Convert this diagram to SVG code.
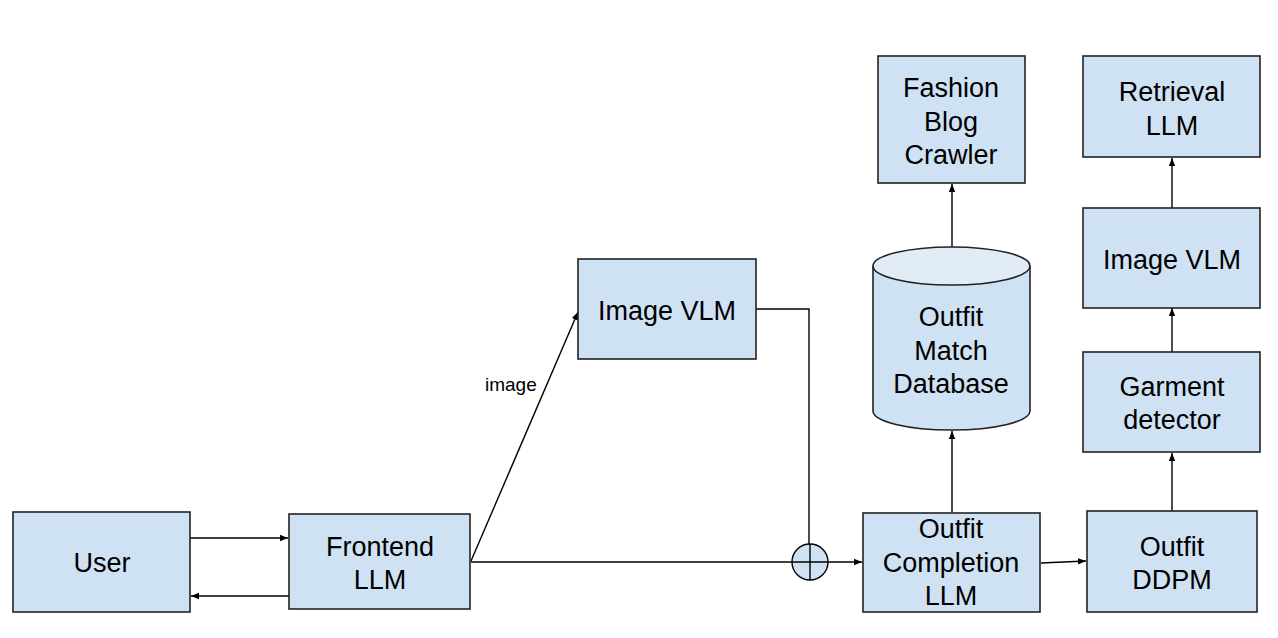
<svg xmlns="http://www.w3.org/2000/svg" width="1278" height="638" viewBox="0 0 1278 638">
<defs>
<style>
.box{fill:#cfe2f3;stroke:#222;stroke-width:1.6}
.t{font-family:"Liberation Sans",Arial,sans-serif;font-size:27px;fill:#000;text-anchor:middle}
.lbl{font-family:"Liberation Sans",Arial,sans-serif;font-size:19px;fill:#000}
.c{fill:none;stroke:#000;stroke-width:1.4}
</style>
<marker id="ah" viewBox="0 0 10 10" refX="10" refY="5" markerWidth="8" markerHeight="8" markerUnits="userSpaceOnUse" orient="auto">
<path d="M0,1 L10,5 L0,9 z" fill="#000"/>
</marker>
</defs>
<rect width="1278" height="638" fill="#fff"/>
<g id="connectors">
<line class="c" x1="190" y1="538" x2="288" y2="538" marker-end="url(#ah)"/>
<line class="c" x1="289" y1="596" x2="191" y2="596" marker-end="url(#ah)"/>
<line class="c" x1="471" y1="561" x2="578" y2="312" marker-end="url(#ah)"/>
<polyline class="c" points="756,309 809,309 809,544"/>
<line class="c" x1="471" y1="562" x2="792" y2="562"/>
<line class="c" x1="828" y1="562" x2="862" y2="562" marker-end="url(#ah)"/>
<line class="c" x1="1041" y1="563" x2="1086" y2="561" marker-end="url(#ah)"/>
<line class="c" x1="952" y1="512" x2="952" y2="431" marker-end="url(#ah)"/>
<line class="c" x1="952" y1="247" x2="952" y2="184" marker-end="url(#ah)"/>
<line class="c" x1="1172" y1="511" x2="1172" y2="453" marker-end="url(#ah)"/>
<line class="c" x1="1172" y1="352" x2="1172" y2="308" marker-end="url(#ah)"/>
<line class="c" x1="1172" y1="208" x2="1172" y2="158" marker-end="url(#ah)"/>
<text class="lbl" x="485" y="391">image</text>
</g>
<g id="sum">
<circle cx="810" cy="562" r="18" fill="#cfe2f3" stroke="#000" stroke-width="1.4"/>
<line class="c" x1="792" y1="562" x2="828" y2="562"/>
<line class="c" x1="810" y1="544" x2="810" y2="580"/>
</g>
<g id="user">
<rect class="box" x="13" y="512" width="177" height="100"/>
<text class="t" x="102" y="572">User</text>
</g>
<g id="frontend">
<rect class="box" x="289" y="514" width="181" height="95"/>
<text class="t" x="380" y="556">Frontend</text>
<text class="t" x="380" y="589">LLM</text>
</g>
<g id="imagevlm1">
<rect class="box" x="578" y="259" width="178" height="100"/>
<text class="t" x="667" y="320">Image VLM</text>
</g>
<g id="completion">
<rect class="box" x="863" y="513" width="177" height="99"/>
<text class="t" x="951" y="538">Outfit</text>
<text class="t" x="951" y="572">Completion</text>
<text class="t" x="951" y="605">LLM</text>
</g>
<g id="ddpm">
<rect class="box" x="1087" y="511" width="170" height="101"/>
<text class="t" x="1172" y="556">Outfit</text>
<text class="t" x="1172" y="589">DDPM</text>
</g>
<g id="database">
<path d="M873,266 L873,411 A78.5,19 0 0 0 1030,411 L1030,266" fill="#cfe2f3" stroke="#222" stroke-width="1.6"/>
<ellipse cx="951.5" cy="266" rx="78.5" ry="19" fill="#e1ecf7" stroke="#222" stroke-width="1.6"/>
<text class="t" x="951" y="326">Outfit</text>
<text class="t" x="951" y="360">Match</text>
<text class="t" x="951" y="393">Database</text>
</g>
<g id="crawler">
<rect class="box" x="878" y="56" width="147" height="127"/>
<text class="t" x="951" y="97">Fashion</text>
<text class="t" x="951" y="131">Blog</text>
<text class="t" x="951" y="164">Crawler</text>
</g>
<g id="retrieval">
<rect class="box" x="1083" y="56" width="177" height="101"/>
<text class="t" x="1172" y="101">Retrieval</text>
<text class="t" x="1172" y="135">LLM</text>
</g>
<g id="imagevlm2">
<rect class="box" x="1083" y="208" width="177" height="100"/>
<text class="t" x="1172" y="269">Image VLM</text>
</g>
<g id="garment">
<rect class="box" x="1083" y="352" width="177" height="100"/>
<text class="t" x="1172" y="396">Garment</text>
<text class="t" x="1172" y="429">detector</text>
</g>
</svg>
